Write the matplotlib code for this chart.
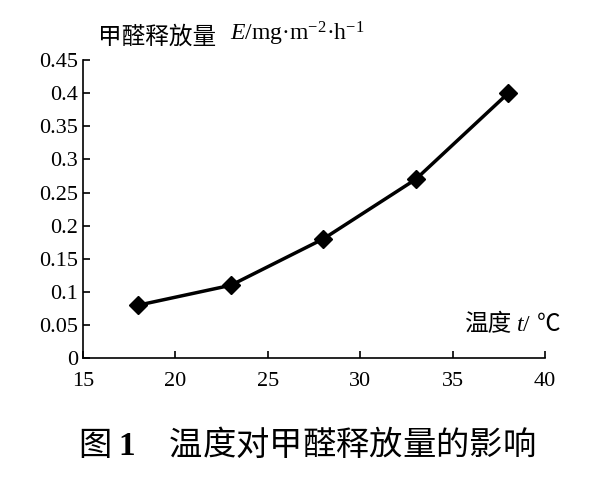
import matplotlib
matplotlib.use("Agg")
import matplotlib.pyplot as plt
from matplotlib.ticker import FuncFormatter

temps = [18, 23, 28, 33, 38]
emission = [0.08, 0.11, 0.18, 0.27, 0.40]
xticks = [15, 20, 25, 30, 35, 40]
yticks = [0, 0.05, 0.1, 0.15, 0.2, 0.25, 0.3, 0.35, 0.4, 0.45]

serif = ['Liberation Serif', 'Noto Sans CJK SC', 'DejaVu Serif']
cjk = ['Noto Sans CJK SC', 'Liberation Serif']
plt.rcParams['font.family'] = serif
plt.rcParams['mathtext.fontset'] = 'custom'
plt.rcParams['mathtext.rm'] = 'Liberation Serif'
plt.rcParams['mathtext.it'] = 'Liberation Serif:italic'
plt.rcParams['mathtext.bf'] = 'Liberation Serif:bold'

fig = plt.figure(figsize=(6.14, 4.84), dpi=100)
ax = fig.add_axes([0.135, 0.26, 0.753, 0.616])
ax.plot(temps, emission, color='black', lw=2.5, marker='D', ms=9)
ax.set_xlim(15, 40)
ax.set_ylim(0, 0.45)
ax.set_xticks(xticks)
ax.set_yticks(yticks)
ax.yaxis.set_major_formatter(FuncFormatter(lambda v, p: '0' if v == 0 else f'{v:g}'))
for s in ['top', 'right']:
    ax.spines[s].set_visible(False)
for s in ['left', 'bottom']:
    ax.spines[s].set_linewidth(1.2)
ax.tick_params(direction='in', length=5, labelsize=16, width=1.2)
ax.tick_params(axis='x', pad=10)
fig.text(0.16, 0.9, '甲醛释放量', fontsize=17, family=cjk, va='bottom')
fig.text(0.375, 0.9, r'$E$/mg·m$^{-2}$·h$^{-1}$', fontsize=17, va='bottom')
fig.text(0.755, 0.305, '温度', fontsize=17, family=cjk, va='bottom')
fig.text(0.84, 0.305, r'$t$/', fontsize=17, va='bottom')
fig.text(0.875, 0.305, '℃', fontsize=17, va='bottom', family=cjk)
fig.text(0.5, 0.08, '图 $\\mathbf{1}$　温度对甲醛释放量的影响', fontsize=24,
         family=cjk, ha='center', va='center')
fig.savefig('out.png', dpi=100, facecolor='white')
